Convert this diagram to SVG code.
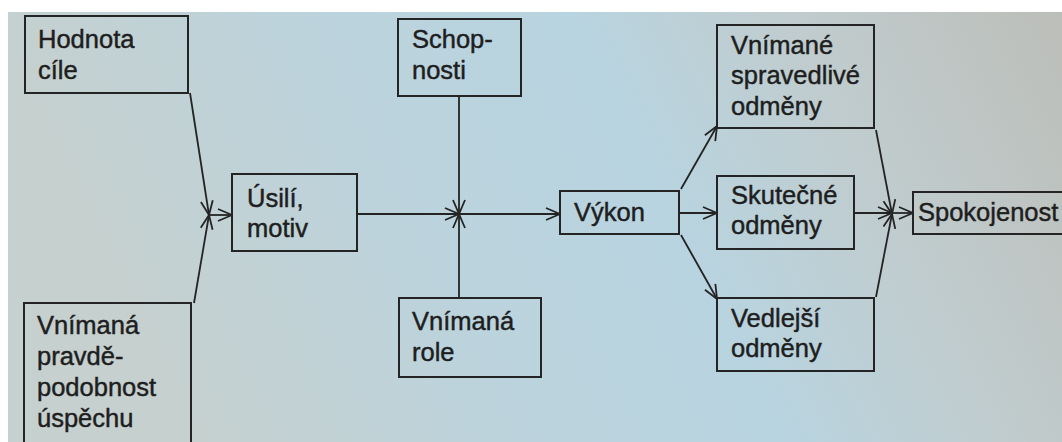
<svg xmlns="http://www.w3.org/2000/svg" width="1062" height="442" viewBox="0 0 1062 442">
  <defs>
    <linearGradient id="paper" x1="0" y1="0.2" x2="1" y2="0">
      <stop offset="0" stop-color="#c6d0ce"/>
      <stop offset="0.3" stop-color="#bcd3dc"/>
      <stop offset="0.55" stop-color="#b8d4e0"/>
      <stop offset="0.75" stop-color="#c0ccce"/>
      <stop offset="1" stop-color="#bcbeb9"/>
    </linearGradient>
    <marker id="arr" viewBox="0 0 16 14" refX="15" refY="7" markerWidth="16" markerHeight="14" markerUnits="userSpaceOnUse" orient="auto">
      <path d="M1,1 L15,7 L1,13" fill="none" stroke="#242424" stroke-width="1.8"/>
    </marker>
    <style>
      .box { fill: none; stroke: #242424; stroke-width: 2; }
      .lbl { font-family: "Liberation Sans", Arial, sans-serif; font-size: 25.5px; fill: #1e1e1e; stroke: #1e1e1e; stroke-width: 0.45; }
      .con { fill: none; stroke: #242424; stroke-width: 1.8; marker-end: url(#arr); }
    </style>
  </defs>

  <!-- page -->
  <rect x="0" y="0" width="1062" height="442" fill="#ffffff"/>
  <rect x="8" y="12" width="1054" height="430" fill="url(#paper)"/>

  <!-- connectors -->
  <g id="connectors">
    <path class="con" d="M190,93 L209,215"/>
    <path class="con" d="M194,303 L209,215"/>
    <path class="con" d="M209,215 L232,215"/>
    <path class="con" d="M357,214 L459,214"/>
    <path class="con" d="M459,96 L459,214"/>
    <path class="con" d="M459,298 L459,214"/>
    <path class="con" d="M459,214 L560,214"/>
    <path class="con" d="M681,189 L717,126"/>
    <path class="con" d="M680,213 L717,213"/>
    <path class="con" d="M681,235 L717,299"/>
    <path class="con" d="M876,130 L892,214"/>
    <path class="con" d="M854,213 L892,213"/>
    <path class="con" d="M876,297 L892,214"/>
    <path class="con" d="M892,213 L913,213"/>
  </g>

  <g id="hodnota-cile">
    <rect class="box" x="25" y="16" width="163" height="77"/>
    <text class="lbl" x="38" y="48">Hodnota</text>
    <text class="lbl" x="38" y="79">cíle</text>
  </g>

  <g id="pravdepodobnost">
    <rect class="box" x="24" y="303" width="167" height="150"/>
    <text class="lbl" x="37" y="334">Vnímaná</text>
    <text class="lbl" x="37" y="365">pravdě-</text>
    <text class="lbl" x="37" y="396">podobnost</text>
    <text class="lbl" x="37" y="427">úspěchu</text>
  </g>

  <g id="usili">
    <rect class="box" x="232" y="174" width="125" height="77"/>
    <text class="lbl" x="247" y="207">Úsilí,</text>
    <text class="lbl" x="247" y="237">motiv</text>
  </g>

  <g id="schopnosti">
    <rect class="box" x="398" y="19" width="123" height="77"/>
    <text class="lbl" x="412" y="48">Schop-</text>
    <text class="lbl" x="412" y="79">nosti</text>
  </g>

  <g id="role">
    <rect class="box" x="399" y="298" width="142" height="79"/>
    <text class="lbl" x="412" y="330">Vnímaná</text>
    <text class="lbl" x="412" y="361">role</text>
  </g>

  <g id="vykon">
    <rect class="box" x="560" y="191" width="119" height="43"/>
    <text class="lbl" x="574" y="221">Výkon</text>
  </g>

  <g id="spravedlive-odmeny">
    <rect class="box" x="717" y="25" width="157" height="103"/>
    <text class="lbl" x="731" y="54">Vnímané</text>
    <text class="lbl" x="731" y="84">spravedlivé</text>
    <text class="lbl" x="731" y="115">odměny</text>
  </g>

  <g id="skutecne-odmeny">
    <rect class="box" x="717" y="176" width="137" height="73"/>
    <text class="lbl" x="731" y="204">Skutečné</text>
    <text class="lbl" x="731" y="234">odměny</text>
  </g>

  <g id="vedlejsi-odmeny">
    <rect class="box" x="717" y="298" width="157" height="73"/>
    <text class="lbl" x="731" y="327">Vedlejší</text>
    <text class="lbl" x="731" y="357">odměny</text>
  </g>

  <g id="spokojenost">
    <rect class="box" x="913" y="192" width="160" height="42"/>
    <text class="lbl" x="918" y="221">Spokojenost</text>
  </g>
</svg>
